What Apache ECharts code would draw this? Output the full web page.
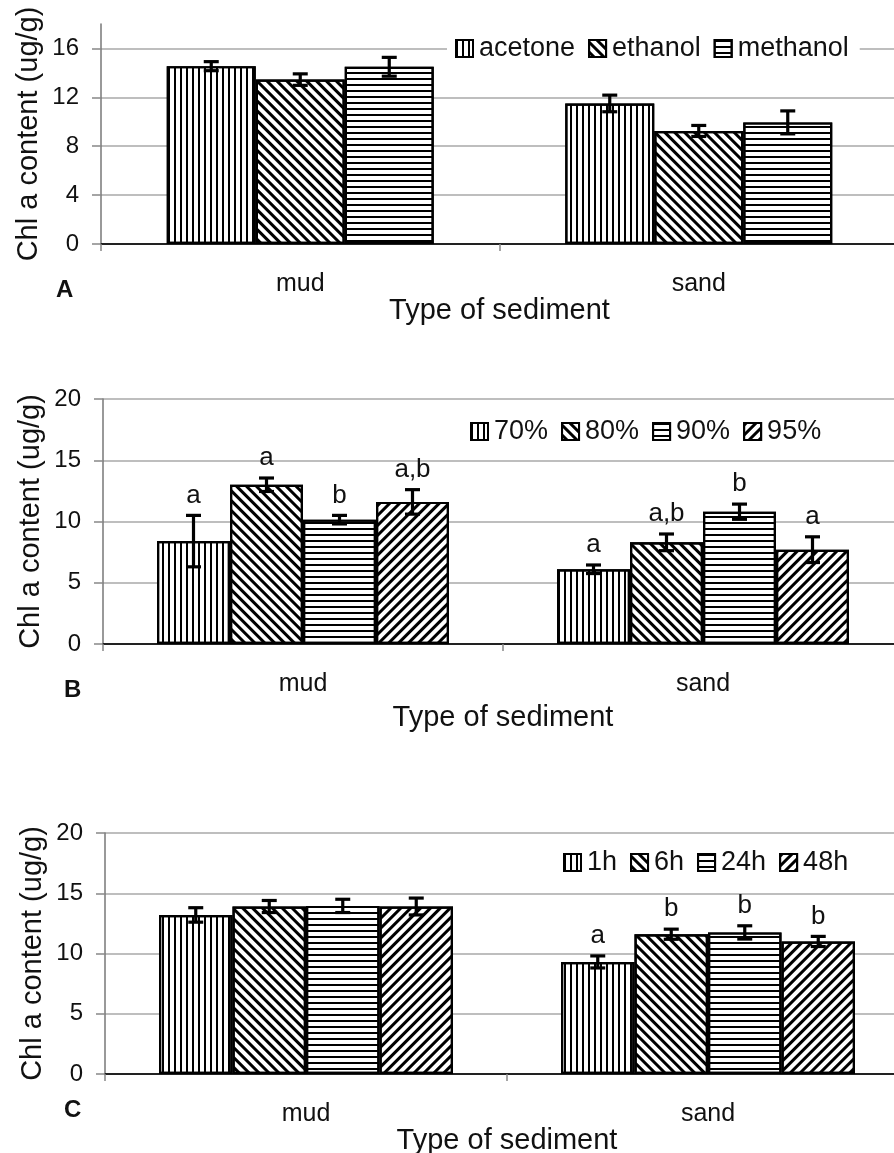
<!DOCTYPE html>
<html>
<head>
<meta charset="utf-8">
<script src="https://cdn.jsdelivr.net/npm/echarts@6/dist/echarts.min.js"></script>
<style>
  html, body { margin: 0; padding: 0; background: #fff; }
  #chart { width: 894px; height: 1153px; }
</style>
</head>
<body>
<div id="chart"></div>
<script>
// ---------------- DATA ----------------
const categories = ['mud', 'sand'];

// Panel A: solvent
const solventNames = ['acetone', 'ethanol', 'methanol'];
const solventMeans = [[14.55, 11.5], [13.45, 9.25], [14.5, 9.95]];
const solventErrors = [[0.37, 0.68], [0.47, 0.45], [0.77, 0.94]];

// Panel B: acetone concentration
const concNames = ['70%', '80%', '90%', '95%'];
const concMeans = [[8.4, 6.1], [13.0, 8.3], [10.15, 10.8], [11.6, 7.7]];
const concErrors = [[2.1, 0.35], [0.55, 0.68], [0.35, 0.62], [1.0, 1.05]];
const concLetters = [['a', 'a'], ['a', 'a,b'], ['b', 'b'], ['a,b', 'a']];

// Panel C: extraction time
const timeNames = ['1h', '6h', '24h', '48h'];
const timeMeans = [[13.2, 9.3], [13.9, 11.6], [13.95, 11.75], [13.9, 11.0]];
const timeErrors = [[0.6, 0.5], [0.5, 0.42], [0.55, 0.55], [0.7, 0.42]];
const timeLetters = [['', 'a'], ['', 'b'], ['', 'b'], ['', 'b']];

// Axis scales
const yAxisA = { min: 0, max: 18, interval: 4, ticks: [0, 4, 8, 12, 16] };
const yAxisB = { min: 0, max: 20, interval: 5 };
const yAxisC = { min: 0, max: 20, interval: 5 };

const panelLetters = ['A', 'B', 'C'];
const xTitle = 'Type of sediment';
const yTitle = 'Chl a content (ug/g)';

// ---------------- STYLE ----------------
const FONT = "'Liberation Sans', Arial, sans-serif";
const decals = [
  { symbol: 'rect', symbolSize: 1, dashArrayX: [2, 4], dashArrayY: [1, 0], color: '#000' },              // vertical
  { symbol: 'rect', symbolSize: 1, dashArrayX: [1, 0], dashArrayY: [2.5, 3.5], rotation: Math.PI / 4, color: '#000' },  // back diagonal
  { symbol: 'rect', symbolSize: 1, dashArrayX: [1, 0], dashArrayY: [2, 4], color: '#000' },              // horizontal
  { symbol: 'rect', symbolSize: 1, dashArrayX: [1, 0], dashArrayY: [2.5, 3.5], rotation: -Math.PI / 4, color: '#000' } // fwd diagonal
];

const grids = [
  { left: 101, top: 24, width: 797, height: 220, outerBoundsMode: 'none', containLabel: false },
  { left: 103, top: 399, width: 800, height: 245, outerBoundsMode: 'none', containLabel: false },
  { left: 105, top: 833, width: 804, height: 241, outerBoundsMode: 'none', containLabel: false }
];
const barWidths = [89, 73, 73.5];

function xAxisCfg(gi, nameGap) {
  return {
    type: 'category', gridIndex: gi, data: categories,
    axisLine: { lineStyle: { color: '#222', width: 2 } },
    axisTick: { show: true, length: 7, lineStyle: { color: '#888', width: 1.5 } },
    axisLabel: { fontSize: 25, margin: 28, color: '#111', fontFamily: FONT },
    name: xTitle, nameLocation: 'middle', nameGap: nameGap, nameMoveOverlap: false,
    nameTextStyle: { fontSize: 29, color: '#111', fontFamily: FONT }
  };
}
function yAxisCfg(gi, sc) {
  const c = {
    type: 'value', gridIndex: gi, min: sc.min, max: sc.max, interval: sc.interval,
    axisLine: { show: true, lineStyle: { color: '#777', width: 1.5 } },
    axisTick: { show: true, length: 9, lineStyle: { color: '#888', width: 1.5 } },
    splitLine: { lineStyle: { color: '#a8a8a8', width: 1.5 } },
    axisLabel: { fontSize: 24, margin: 22, color: '#111', fontFamily: FONT },
    name: yTitle, nameLocation: 'middle', nameGap: 58, nameMoveOverlap: false,
    nameTextStyle: { fontSize: 29, color: '#111', fontFamily: FONT }
  };
  if (sc.ticks) {
    c.axisTick.customValues = sc.ticks;
    c.axisLabel.customValues = sc.ticks;
  }
  return c;
}

const series = [];
function addPanel(gi, names, means, errors, letters) {
  const n = names.length;
  const bw = barWidths[gi];
  names.forEach((nm, i) => {
    series.push({
      type: 'bar', name: nm, xAxisIndex: gi, yAxisIndex: gi,
      data: means[i], barWidth: bw, barGap: '0%',
      itemStyle: { color: '#fff', borderColor: '#000', borderWidth: 2.2, decal: decals[i] },
      emphasis: { disabled: true }, animation: false
    });
    series.push({
      type: 'custom', name: 'err_' + nm, xAxisIndex: gi, yAxisIndex: gi, z: 5,
      silent: true, animation: false,
      data: categories.map((c, j) => [j, means[i][j], errors[i][j]]),
      encode: { x: 0, y: 1 },
      renderItem: function (params, api) {
        const cat = api.value(0), m = api.value(1), e = api.value(2);
        const c = api.coord([cat, m]);
        const x = c[0] + (i - (n - 1) / 2) * bw;
        const yT = api.coord([cat, m + e])[1];
        const yB = api.coord([cat, m - e])[1];
        const hw = 7.5;
        const st = { stroke: '#000', lineWidth: 3.2 };
        const children = [
          { type: 'line', shape: { x1: x, y1: yT, x2: x, y2: yB }, style: st },
          { type: 'line', shape: { x1: x - hw, y1: yT, x2: x + hw, y2: yT }, style: st },
          { type: 'line', shape: { x1: x - hw, y1: yB, x2: x + hw, y2: yB }, style: st }
        ];
        const lt = letters ? letters[i][params.dataIndex] : '';
        if (lt) {
          children.push({
            type: 'text', x: x, y: yT - 20,
            style: { text: lt, fill: '#111', font: '26px ' + FONT, align: 'center', verticalAlign: 'middle' }
          });
        }
        return { type: 'group', children: children };
      }
    });
  });
}
addPanel(0, solventNames, solventMeans, solventErrors, null);
addPanel(1, concNames, concMeans, concErrors, concLetters);
addPanel(2, timeNames, timeMeans, timeErrors, timeLetters);

function legendCfg(names, left, top, bg) {
  return {
    data: names, left: left, top: top, orient: 'horizontal',
    itemWidth: 17, itemHeight: 17, itemGap: 13,
    padding: [4, 11, 4, 8],
    backgroundColor: bg ? '#fff' : 'transparent',
    icon: 'rect',
    itemStyle: { borderColor: '#000', borderWidth: 2 },
    textStyle: { fontSize: 27, color: '#111', fontFamily: FONT, padding: [0, 0, 0, 1] },
    selectedMode: false
  };
}

const option = {
  backgroundColor: '#fff',
  animation: false,
  grid: grids,
  xAxis: [xAxisCfg(0, 52), xAxisCfg(1, 59), xAxisCfg(2, 52)],
  yAxis: [yAxisCfg(0, yAxisA), yAxisCfg(1, yAxisB), yAxisCfg(2, yAxisC)],
  legend: [
    legendCfg(solventNames, 447, 31, true),
    legendCfg(concNames, 462, 414, false),
    legendCfg(timeNames, 555, 845, false)
  ],
  graphic: [
    { type: 'text', left: 56, top: 278, style: { text: panelLetters[0], font: 'bold 24px ' + FONT, fill: '#111' } },
    { type: 'text', left: 64, top: 678, style: { text: panelLetters[1], font: 'bold 24px ' + FONT, fill: '#111' } },
    { type: 'text', left: 64, top: 1098, style: { text: panelLetters[2], font: 'bold 24px ' + FONT, fill: '#111' } }
  ],
  series: series
};

const chart = echarts.init(document.getElementById('chart'), null, { renderer: 'canvas' });
chart.setOption(option);
</script>
</body>
</html>
